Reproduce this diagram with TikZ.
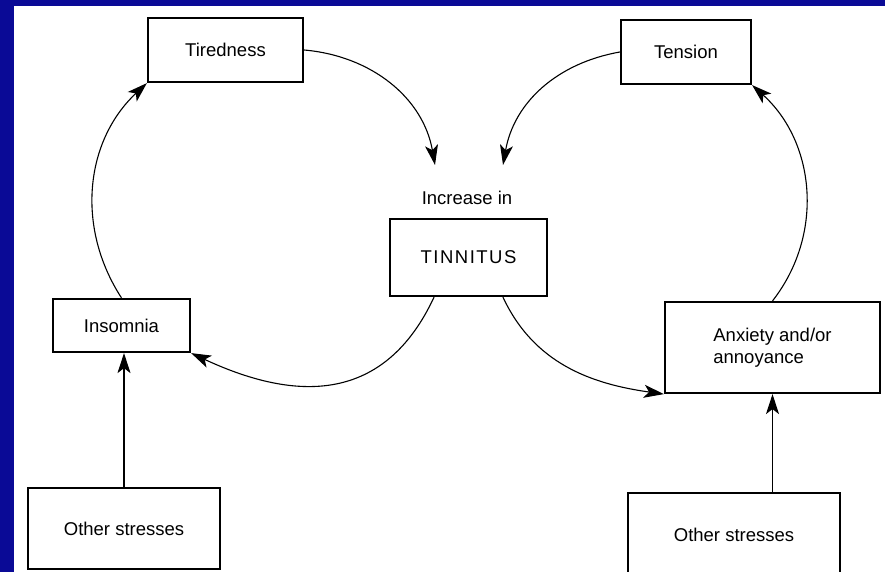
\documentclass[tikz,border=0pt]{standalone}
\usepackage{fontspec}
\setmainfont{Liberation Sans}
\usetikzlibrary{arrows.meta,positioning,calc}
\definecolor{slideblue}{RGB}{10,10,150}

\begin{document}
\begin{tikzpicture}[
x=1pt,y=1pt,
factor/.style={
	draw,
	line width=2.2pt,
	inner sep=0pt,
	font=\fontsize{18.5}{22}\selectfont
},
feedback/.style={
	-{Stealth[length=20pt,width=13pt,inset=5pt]},
	line width=1.1pt
}
]
\clip (0,0) rectangle (885,-572);
\fill[slideblue] (0,0) rectangle (885,-572);
\fill[white] (14,-6) rectangle (885,-572);

\foreach \n/\x/\y/\w/\h/\t in {tiredness/225.5/-50/155/64/Tiredness,
	tension/686/-52/130/64/Tension,
	insomnia/121.5/-325.5/137/53/Insomnia,
	osl/124/-528.5/192/81/{Other stresses},
	osr/734/-535/212/84/{Other stresses}}
\node[factor,minimum width=\w pt,minimum height=\h pt] (\n) at (\x,\y) {\t};

\node[factor,minimum width=157pt,minimum height=77pt] (tinnitus) at (468.5,-257.5)
	{\addfontfeatures{LetterSpace=8}TINNITUS};
\node[font=\fontsize{18.5}{22}\selectfont] (increase) at (467,-198) {Increase in};
\node[factor,minimum width=215pt,minimum height=91pt,align=left] (anxiety) at (772.5,-347.5)
	{Anxiety and/or\\annoyance};

\coordinate (tipL) at (435,-165);
\coordinate (tipR) at (503,-165);

\draw[feedback] (insomnia.north) to[out=123,in=223] (tiredness.south west);
\draw[feedback] (tiredness.east) to[out=-5,in=100] (tipL);
\draw[feedback] (tension.west) to[out=190,in=80] (tipR);
\draw[feedback] (tinnitus.229) to[out=245,in=-25,looseness=1.2] (insomnia.south east);
\draw[feedback] (tinnitus.311) to[out=295,in=172] (anxiety.south west);
\draw[feedback] (anxiety.north) to[out=52,in=-42] (tension.south east);
\draw[feedback] (osl.north) -- (osl.north |- insomnia.south);
\draw[feedback] (anxiety.south |- osr.north) -- (anxiety.south);
\end{tikzpicture}
\end{document}
